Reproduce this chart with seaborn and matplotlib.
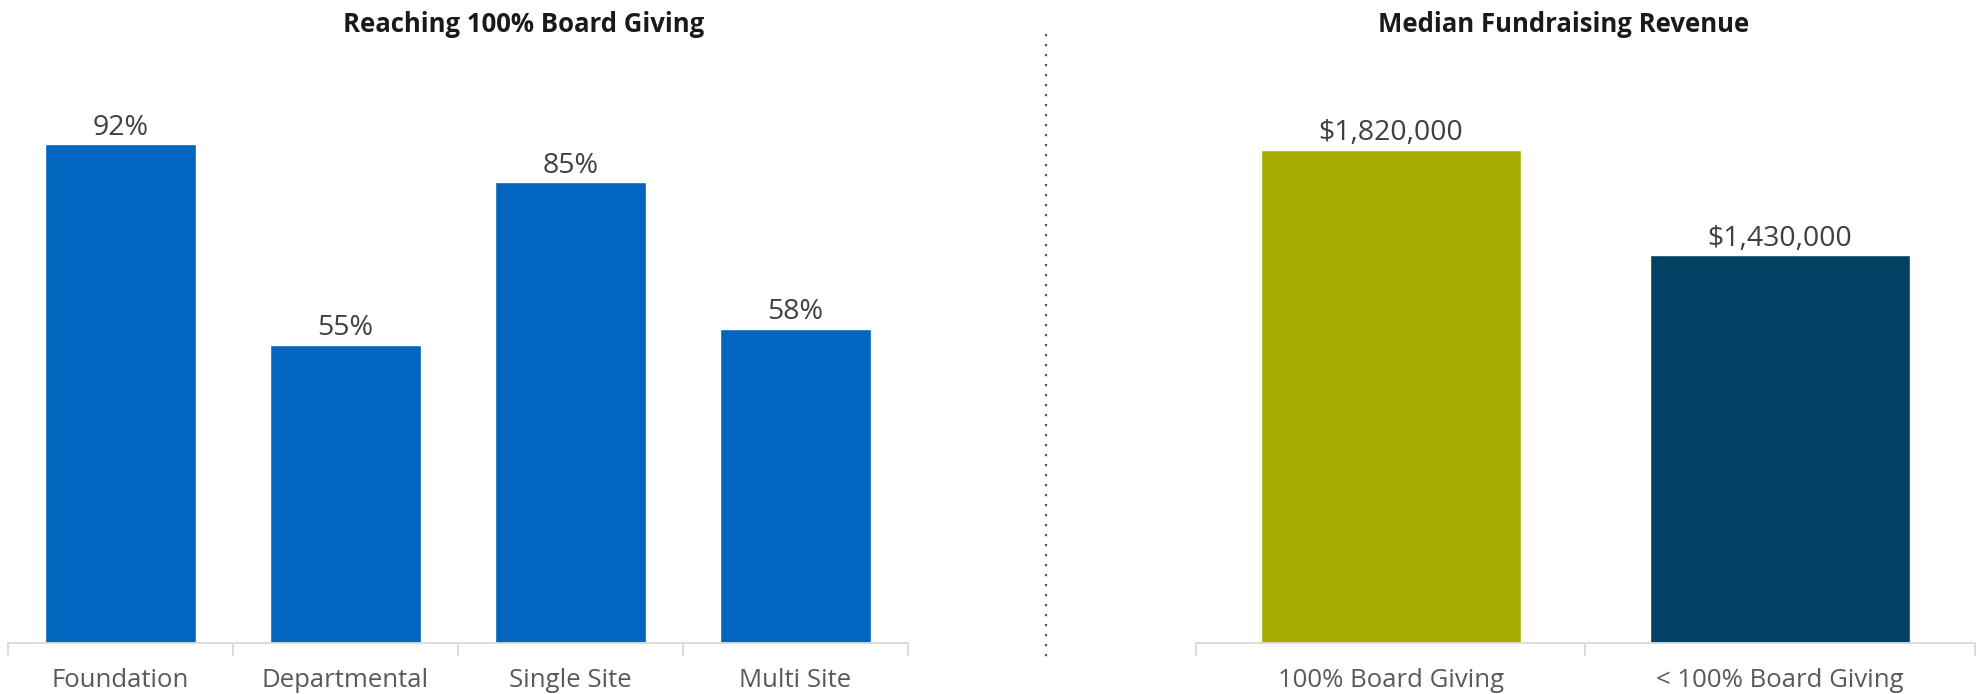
import matplotlib
matplotlib.use("Agg")
import matplotlib.pyplot as plt
import seaborn as sns
import pandas as pd

# Data
giving_categories = ["Foundation", "Departmental", "Single Site", "Multi Site"]
giving_pct = [0.92, 0.55, 0.85, 0.58]

revenue_categories = ["100% Board Giving", "< 100% Board Giving"]
revenue_values = [1820000, 1430000]

left_title = "Reaching 100% Board Giving"
right_title = "Median Fundraising Revenue"

BLUE = "#0066BF"
OLIVE = "#A5AE00"
NAVY = "#004164"
AXIS_GRAY = "#D9D9D9"
TEXT_GRAY = "#595959"
LABEL_DARK = "#404040"

sns.set_theme(style="white")
plt.rcParams["font.family"] = ["Open Sans", "DejaVu Sans"]

fig = plt.figure(figsize=(19.8, 6.94), dpi=100)
ax1 = fig.add_axes([0.004, 0.0735, 0.4545, 0.781])
ax2 = fig.add_axes([0.604, 0.0735, 0.3934, 0.781])

df1 = pd.DataFrame({"cat": giving_categories, "val": giving_pct})
df2 = pd.DataFrame({"cat": revenue_categories, "val": revenue_values})

sns.barplot(data=df1, x="cat", y="val", color=BLUE, saturation=1,
            width=0.67, ax=ax1)
sns.barplot(data=df2, x="cat", y="val", hue="cat",
            palette=[OLIVE, NAVY], saturation=1, width=0.667,
            legend=False, ax=ax2)

ax1.set_ylim(0, 1.0)
ax2.set_ylim(0, 2000000)

for ax, n in ((ax1, len(giving_categories)), (ax2, len(revenue_categories))):
    ax.set_xlim(-0.5, n - 0.5)
    ax.set_xlabel("")
    ax.set_ylabel("")
    ax.set_yticks([])
    for side in ("top", "right", "left"):
        ax.spines[side].set_visible(False)
    ax.spines["bottom"].set_color(AXIS_GRAY)
    ax.spines["bottom"].set_linewidth(1.3)
    ax.set_xticks(range(n))
    ax.set_xticks([i - 0.5 for i in range(n + 1)], minor=True)
    ax.tick_params(axis="x", which="major", length=0, pad=18,
                   labelsize=18.5, labelcolor=TEXT_GRAY)
    ax.tick_params(axis="x", which="minor", length=9, width=1.3,
                   color=AXIS_GRAY, direction="out", bottom=True)
    ax.set_facecolor("none")

for i, v in enumerate(giving_pct):
    ax1.annotate(f"{v:.0%}", (i, v), xytext=(0, 7), textcoords="offset points",
                 ha="center", va="baseline", fontsize=20.5, color=LABEL_DARK)
for i, v in enumerate(revenue_values):
    ax2.annotate(f"${v:,.0f}", (i, v), xytext=(0, 7), textcoords="offset points",
                 ha="center", va="baseline", fontsize=20.5, color=LABEL_DARK)

fig.text(524 / 1980, 1 - 24 / 694, left_title, ha="center", va="center",
         fontsize=18.5, fontweight="bold", color="#1a1a1a")
fig.text(1564 / 1980, 1 - 24 / 694, right_title, ha="center", va="center",
         fontsize=18.5, fontweight="bold", color="#1a1a1a")

# Dotted divider between the two panels
fig.add_artist(plt.Line2D([1046 / 1980, 1046 / 1980], [1 - 34 / 694, 1 - 660 / 694],
                          transform=fig.transFigure, color="#555555",
                          linestyle=(0, (1, 3.5)), linewidth=1.6))

fig.savefig("out.png", dpi=100, facecolor="white")
